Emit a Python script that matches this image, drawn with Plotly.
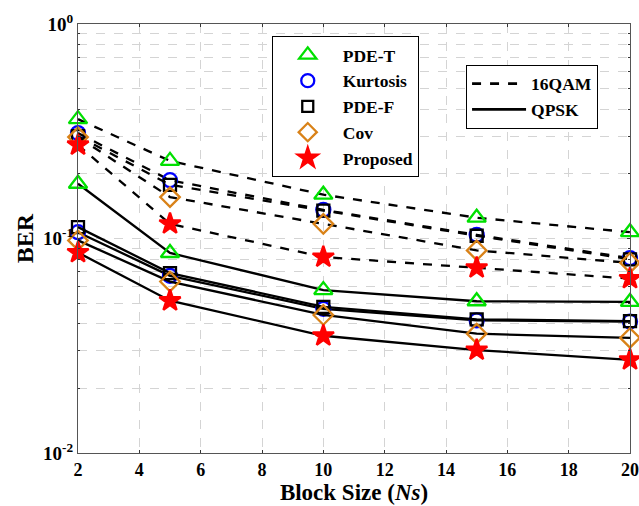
import plotly.graph_objects as go

block_size = [2, 5, 10, 15, 20]
methods = ["PDE-T", "Kurtosis", "PDE-F", "Cov", "Proposed"]

ber_16qam = {
    "PDE-T":    [0.36, 0.230, 0.160, 0.125, 0.107],
    "Kurtosis": [0.31, 0.187, 0.136, 0.104, 0.081],
    "PDE-F":    [0.30, 0.178, 0.135, 0.103, 0.080],
    "Cov":      [0.297, 0.156, 0.117, 0.088, 0.077],
    "Proposed": [0.273, 0.117, 0.082, 0.073, 0.065],
}
ber_qpsk = {
    "PDE-T":    [0.180, 0.0856, 0.0575, 0.051, 0.0506],
    "Kurtosis": [0.107, 0.067, 0.047, 0.0415, 0.041],
    "PDE-F":    [0.113, 0.069, 0.048, 0.042, 0.0412],
    "Cov":      [0.098, 0.063, 0.044, 0.036, 0.0344],
    "Proposed": [0.086, 0.0513, 0.0352, 0.0302, 0.0272],
}

y_tickvals = [0.01, 0.1, 1]
y_ticktext = ["<b>10<sup>-2</sup></b>", "<b>10<sup>-1</sup></b>", "<b>10<sup>0</sup></b>"]
y_minorvals = [0.02, 0.03, 0.04, 0.05, 0.06, 0.07, 0.08, 0.09,
               0.2, 0.3, 0.4, 0.5, 0.6, 0.7, 0.8, 0.9]
x_tickvals = [2, 4, 6, 8, 10, 12, 14, 16, 18, 20]

styles = {
    "PDE-T":    dict(symbol="triangle-up-open", color="#00E000", size=16),
    "Kurtosis": dict(symbol="circle-open", color="#0000FF", size=14),
    "PDE-F":    dict(symbol="square-open", color="#000000", size=12),
    "Cov":      dict(symbol="diamond-open", color="#D98218", size=15),
    "Proposed": dict(symbol="star", color="#FF0000", size=16),
}

FONT = "Liberation Serif"
GRID = "#d4d4d4"
fig = go.Figure()

for sets, dash in [(ber_16qam, "dash"), (ber_qpsk, "solid")]:
    for m in methods:
        st = styles[m]
        fig.add_trace(go.Scatter(
            x=block_size, y=sets[m], mode="lines+markers",
            line=dict(color="black", width=2.3, dash=dash),
            marker=dict(symbol=st["symbol"], size=st["size"], color=st["color"],
                        line=dict(color=st["color"], width=2.3)),
            cliponaxis=False, showlegend=False))

for m in methods:
    st = styles[m]
    fig.add_trace(go.Scatter(
        x=[None], y=[None], mode="markers", name="<b>" + m + "</b>",
        marker=dict(symbol=st["symbol"], size=st["size"] - 1, color=st["color"],
                    line=dict(color=st["color"], width=2.3)),
        legend="legend"))

for nm, dash in [("16QAM", "dash"), ("QPSK", "solid")]:
    fig.add_trace(go.Scatter(
        x=[None], y=[None], mode="lines", name="<b>" + nm + "</b>",
        line=dict(color="black", width=2.8, dash=dash), legend="legend2"))

fig.update_layout(
    width=639, height=506,
    margin=dict(l=78, r=9, t=24, b=53),
    paper_bgcolor="white", plot_bgcolor="white",
    font=dict(family=FONT, color="black", size=17),
    legend=dict(x=0.351, y=0.972, xanchor="left", yanchor="top",
                bordercolor="black", borderwidth=1, bgcolor="white",
                font=dict(family=FONT, size=17.5), itemwidth=60,
                tracegroupgap=0),
    legend2=dict(x=0.703, y=0.905, xanchor="left", yanchor="top",
                 bordercolor="black", borderwidth=1, bgcolor="white",
                 font=dict(family=FONT, size=17.5), itemwidth=54),
    xaxis=dict(range=[2, 20], tickvals=x_tickvals,
               ticktext=["<b>%d</b>" % v for v in x_tickvals],
               tickfont=dict(size=18, family=FONT), ticklabeloverflow="allow",
               showgrid=True, gridcolor=GRID, griddash="dash", gridwidth=1,
               showline=True, linecolor="#555555", linewidth=1, mirror="ticks",
               ticks="inside", ticklen=3, tickcolor="#333333",
               zeroline=False, automargin=False,
               title=dict(text="<b>Block Size (<i>Ns</i>)</b>",
                          font=dict(size=23, family=FONT), standoff=2)),
    yaxis=dict(type="log", range=[-2, 0], tickvals=y_tickvals, ticktext=y_ticktext,
               tickfont=dict(size=19, family=FONT), ticklabeloverflow="allow",
               showgrid=True, gridcolor=GRID, griddash="dash", gridwidth=1,
               showline=True, linecolor="#555555", linewidth=1, mirror="ticks",
               ticks="inside", ticklen=3, tickcolor="#333333",
               minor=dict(tickvals=y_minorvals, showgrid=True, gridcolor=GRID,
                          griddash="dash", ticks="inside", ticklen=2,
                          tickcolor="#333333"),
               zeroline=False, automargin=False,
               title=dict(text="<b>BER</b>", font=dict(size=24, family=FONT), standoff=2)),
)

fig.write_html("out.html")
